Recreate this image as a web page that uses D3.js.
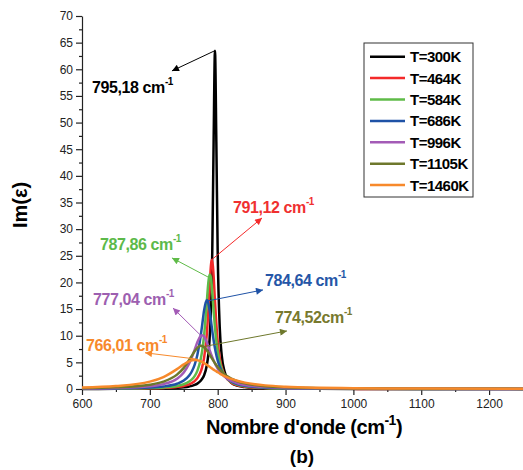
<!DOCTYPE html>
<meta charset="utf-8">
<style>
  body { margin: 0; background: #fff; }
  text { font-family: Arial, "Liberation Sans", sans-serif; }
</style>
<body>
<script src="https://d3js.org/d3.v7.min.js"></script>
<script>
// wavenumber grid (cm-1) shared by all the curves
var wavenumber = [600, 650, 700, 720, 740, 750, 758, 762, 766, 770, 775, 777, 780, 784, 786, 788, 790, 791, 792, 794, 796, 798, 800, 803, 806, 810, 815, 820, 830, 840, 855, 870, 900, 950, 1000, 1100, 1250];

// Im(eps), one array per temperature
var t300  = [0.018, 0.032, 0.075, 0.12, 0.22, 0.33, 0.48, 0.59, 0.76, 1.01, 1.55, 1.89, 2.59, 4.46, 6.24, 9.2, 14.8, 19.3, 25.7, 46.4, 63.5, 46.4, 25.7, 11.6, 6.24, 3.34, 1.89, 1.18, 0.59, 0.36, 0.2, 0.13, 0.064, 0.029, 0.017, 0.0075, 0.0034];
var t464  = [0.028, 0.051, 0.122, 0.2, 0.38, 0.58, 0.88, 1.13, 1.48, 2.04, 3.27, 4.07, 5.89, 10.4, 14.2, 18.8, 23.1, 24.2, 24.2, 21.2, 16.4, 12.2, 8.97, 5.89, 4.07, 2.67, 1.73, 1.2, 0.67, 0.43, 0.25, 0.17, 0.087, 0.041, 0.024, 0.011, 0.005];
var t584  = [0.039, 0.072, 0.175, 0.29, 0.57, 0.89, 1.39, 1.8, 2.42, 3.4, 5.62, 7.05, 10.1, 16.4, 19.7, 21.5, 20.9, 19.7, 18.1, 14.7, 11.5, 8.96, 7.05, 5.04, 3.74, 2.63, 1.8, 1.31, 0.77, 0.51, 0.31, 0.21, 0.11, 0.053, 0.031, 0.014, 0.0065];
var t686  = [0.059, 0.112, 0.28, 0.48, 0.98, 1.58, 2.54, 3.34, 4.54, 6.38, 10.0, 11.9, 14.8, 16.7, 16.2, 14.8, 12.9, 11.9, 10.9, 9.14, 7.63, 6.38, 5.36, 4.19, 3.34, 2.54, 1.87, 1.43, 0.9, 0.62, 0.39, 0.27, 0.15, 0.073, 0.043, 0.02, 0.0093];
var t996  = [0.103, 0.2, 0.52, 0.92, 1.93, 3.11, 4.78, 5.96, 7.35, 8.77, 9.98, 10.1, 9.83, 8.77, 8.08, 7.35, 6.64, 6.29, 5.96, 5.34, 4.78, 4.28, 3.84, 3.27, 2.81, 2.32, 1.85, 1.51, 1.04, 0.76, 0.51, 0.36, 0.21, 0.108, 0.065, 0.031, 0.015];
var t1105 = [0.161, 0.31, 0.8, 1.37, 2.69, 3.97, 5.44, 6.27, 7.08, 7.73, 8.1, 8.07, 7.85, 7.26, 6.89, 6.48, 6.06, 5.85, 5.64, 5.24, 4.84, 4.48, 4.13, 3.67, 3.26, 2.79, 2.32, 1.94, 1.41, 1.06, 0.73, 0.53, 0.31, 0.163, 0.099, 0.048, 0.022];
var t1460 = [0.283, 0.55, 1.39, 2.25, 3.73, 4.62, 5.2, 5.38, 5.45, 5.41, 5.2, 5.08, 4.87, 4.54, 4.36, 4.18, 4.0, 3.91, 3.82, 3.64, 3.47, 3.3, 3.14, 2.91, 2.69, 2.43, 2.14, 1.89, 1.49, 1.2, 0.89, 0.68, 0.43, 0.236, 0.148, 0.073, 0.035];

var legendNames = ["T=300K", "T=464K", "T=584K", "T=686K", "T=996K", "T=1105K", "T=1460K"];
var colors = ["#000000", "#f42a2a", "#5fbb48", "#1f52a6", "#a35bb6", "#6e782c", "#f7892b"];
var textColors = ["#000000", "#f03030", "#5cb94a", "#2556a7", "#9d5fb0", "#78792e", "#f7892b"];
var allSeries = [t300, t464, t584, t686, t996, t1105, t1460];

// peak labels and arrows (data units): label position, arrow start, arrow end
var peakLabels = ["795,18 cm", "791,12 cm", "787,86 cm", "784,64 cm", "777,04 cm", "774,52cm", "766,01 cm"];
var labelX = [614.7, 822.5, 626.5, 869.7, 616.2, 884.5, 605.9];
var labelY = [55.6, 33.1, 26.0, 19.4, 15.7, 12.3, 7.2];
var arrowFromX = [796, 791.5, 786, 784.2, 777, 777, 769.5];
var arrowFromY = [63.5, 24.3, 21.0, 16.5, 9.8, 7.9, 5.6];
var arrowToX = [732.6, 865.3, 732.6, 866.8, 734.1, 902.1, 692.9];
var arrowToY = [59.7, 32.1, 24.6, 18.6, 15.2, 10.9, 6.8];

var xTicks = [600, 700, 800, 900, 1000, 1100, 1200];
var yTicks = [0, 5, 10, 15, 20, 25, 30, 35, 40, 45, 50, 55, 60, 65, 70];

var W = 523, H = 470;
var margin = {top: 16, right: 0, bottom: 81, left: 82};
var width = W - margin.left - margin.right,
    height = H - margin.top - margin.bottom;

var svg = d3.select("body").append("svg")
    .attr("width", W)
    .attr("height", H);

var defs = svg.append("defs");
colors.forEach(function(c, i) {
  defs.append("marker")
      .attr("id", "arr" + i)
      .attr("viewBox", "0 0 10 10")
      .attr("refX", 10).attr("refY", 5)
      .attr("markerWidth", 9).attr("markerHeight", 7)
      .attr("markerUnits", "userSpaceOnUse")
      .attr("orient", "auto")
    .append("path")
      .attr("d", "M0,0L10,5L0,10z")
      .attr("fill", c);
});

var g = svg.append("g")
    .attr("transform", "translate(" + margin.left + "," + margin.top + ")");

var x = d3.scaleLinear().domain([600, 1250]).range([0, width]);
var y = d3.scaleLinear().domain([0, 70]).range([height, 0]);

// minor ticks first
g.append("g")
    .attr("transform", "translate(0," + height + ")")
    .call(d3.axisBottom(x).tickValues(d3.range(650, 1250, 100)).tickSize(3).tickFormat(""))
    .call(function(a) { a.select(".domain").remove(); });
g.append("g")
    .call(d3.axisLeft(y).tickValues(d3.range(2.5, 70, 5)).tickSize(3).tickFormat(""))
    .call(function(a) { a.select(".domain").remove(); });

var xAxis = g.append("g")
    .attr("transform", "translate(0," + height + ")")
    .call(d3.axisBottom(x).tickValues(xTicks).tickFormat(d3.format("d"))
      .tickSize(6).tickSizeOuter(0).tickPadding(4));
var yAxis = g.append("g")
    .call(d3.axisLeft(y).tickValues(yTicks).tickFormat(d3.format("d"))
      .tickSize(6).tickSizeOuter(0).tickPadding(3));

[xAxis, yAxis].forEach(function(a) {
  a.selectAll("text").style("font-size", "12px").attr("fill", "#222");
  a.selectAll("line, path").attr("stroke", "#222").attr("stroke-width", 1.2);
});
g.selectAll(".tick line").attr("stroke", "#222").attr("stroke-width", 1.2);

// curves
var line = d3.line()
    .x(function(d, i) { return x(wavenumber[i]); })
    .y(function(d) { return y(d); })
    .curve(d3.curveMonotoneX);

g.selectAll(".curve")
    .data(allSeries)
  .enter().append("path")
    .attr("class", "curve")
    .attr("d", line)
    .attr("fill", "none")
    .attr("stroke", function(d, i) { return colors[i]; })
    .attr("stroke-width", 2.5)
    .attr("stroke-linejoin", "round");

// arrows
g.selectAll(".arrow")
    .data(peakLabels)
  .enter().append("line")
    .attr("class", "arrow")
    .attr("x1", function(d, i) { return x(arrowFromX[i]); })
    .attr("y1", function(d, i) { return y(arrowFromY[i]); })
    .attr("x2", function(d, i) { return x(arrowToX[i]); })
    .attr("y2", function(d, i) { return y(arrowToY[i]); })
    .attr("stroke", function(d, i) { return colors[i]; })
    .attr("stroke-width", 1)
    .attr("marker-end", function(d, i) { return "url(#arr" + i + ")"; });

// peak labels
var lab = g.selectAll(".peak")
    .data(peakLabels)
  .enter().append("text")
    .attr("class", "peak")
    .attr("x", function(d, i) { return x(labelX[i]); })
    .attr("y", function(d, i) { return y(labelY[i]); })
    .attr("fill", function(d, i) { return textColors[i]; })
    .style("font-size", "16px")
    .style("font-weight", "bold")
    .style("letter-spacing", "-0.4px");
lab.append("tspan").text(function(d) { return d; });
lab.append("tspan").attr("dy", -8).style("font-size", "10px").text("-1");

// legend
var leg = svg.append("g");
leg.append("rect")
    .attr("x", 364).attr("y", 43)
    .attr("width", 109).attr("height", 154)
    .attr("fill", "#fff")
    .attr("stroke", "#333")
    .attr("stroke-width", 1);
var rows = leg.selectAll(".row")
    .data(legendNames)
  .enter().append("g")
    .attr("transform", function(d, i) { return "translate(370," + (56.7 + i * 21.4) + ")"; });
rows.append("line")
    .attr("x1", 0).attr("x2", 35)
    .attr("stroke", function(d, i) { return colors[i]; })
    .attr("stroke-width", 2.5);
rows.append("text")
    .attr("x", 40).attr("dy", "0.36em")
    .style("font-size", "15px")
    .style("font-weight", "bold")
    .style("letter-spacing", "-0.5px")
    .text(function(d) { return d; });

// axis titles
var xt = svg.append("text")
    .attr("x", 304).attr("y", 434)
    .attr("text-anchor", "middle")
    .style("font-size", "20px")
    .style("font-weight", "bold")
    .style("letter-spacing", "-0.5px");
xt.append("tspan").text("Nombre d'onde (cm");
xt.append("tspan").attr("dy", -9).style("font-size", "14px").text("-1");
xt.append("tspan").attr("dy", 9).text(")");

svg.append("text")
    .attr("x", 302).attr("y", 463)
    .attr("text-anchor", "middle")
    .style("font-size", "19px")
    .style("font-weight", "bold")
    .text("(b)");

svg.append("text")
    .attr("transform", "translate(27,205) rotate(-90)")
    .attr("text-anchor", "middle")
    .style("font-size", "20px")
    .style("font-weight", "bold")
    .text("Im(ε)");
</script>
</body>
